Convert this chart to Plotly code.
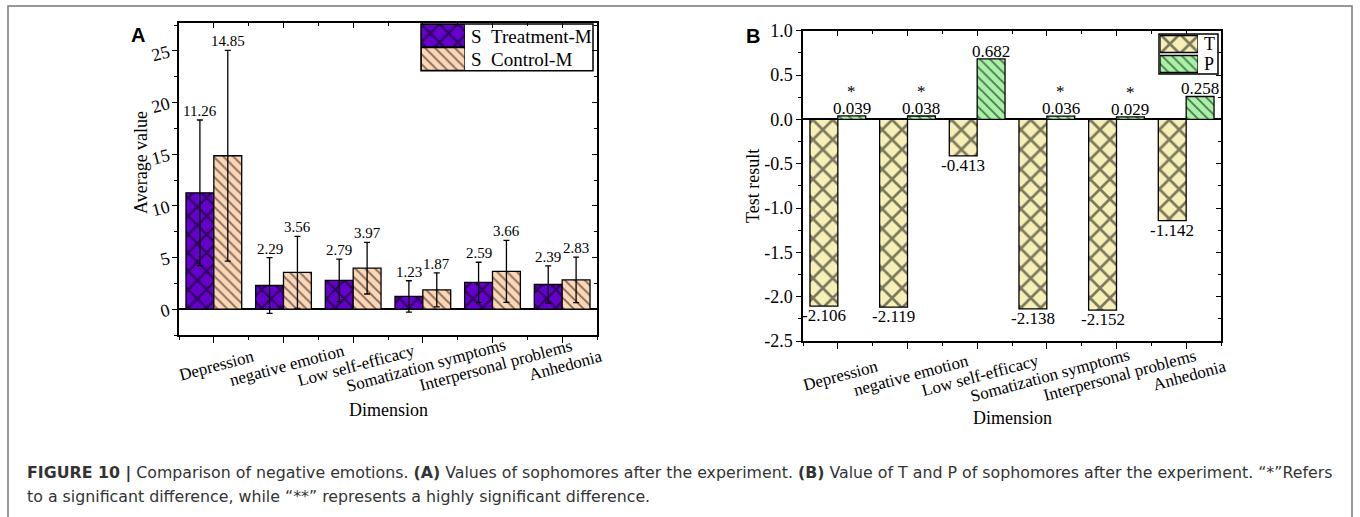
import plotly.graph_objects as go

# ---------------- data ----------------
dimensions = ["Depression", "negative emotion", "Low self-efficacy",
              "Somatization symptoms", "Interpersonal problems", "Anhedonia"]

series_a = ["S\u00a0\u00a0Treatment-M", "S\u00a0\u00a0Control-M"]
treatment_mean = [11.26, 2.29, 2.79, 1.23, 2.59, 2.39]
treatment_sd = [7.05, 2.70, 2.05, 1.52, 1.95, 1.80]
control_mean = [14.85, 3.56, 3.97, 1.87, 3.66, 2.83]
control_sd = [10.20, 3.48, 2.50, 1.65, 3.00, 2.20]
a_yticks = [0, 5, 10, 15, 20, 25]

series_b = ["T", "P"]
t_values = [-2.106, -2.119, -0.413, -2.138, -2.152, -1.142]
p_values = [0.039, 0.038, 0.682, 0.036, 0.029, 0.258]
p_marks = ["*", "*", "", "*", "*", ""]
b_yticks = [-2.5, -2.0, -1.5, -1.0, -0.5, 0.0, 0.5, 1.0]

# ---------------- style ----------------
W, H = 1360, 517
SERIF = "Liberation Serif"
SANS = "Liberation Sans"
C_TREAT = "#6600CC"
C_CTRL = "#FDD6B6"
C_T = "#F6F0B8"
C_P = "#A8F2A8"
PAT_X = dict(shape="x", fgcolor="black", fillmode="overlay", size=13, solidity=0.35)
PAT_X_B = dict(shape="x", fgcolor="black", fillmode="overlay", size=14, solidity=0.35)
PAT_BS = dict(shape="\\", fgcolor="black", fillmode="overlay", size=7, solidity=0.27)


def px(x):
    return x / W


def py(y):
    return 1 - y / H


idx = list(range(len(dimensions)))
minor_x = [i - 0.5 for i in range(len(dimensions) + 1)]

# panel boxes (pixels)
A_L, A_R, A_T, A_B = 179, 597, 23, 335
B_L, B_R, B_T, B_B = 803, 1221, 30.7, 341

fig = go.Figure()

bar_line = dict(color="black", width=1.3)
err = dict(type="data", color="black", thickness=1.3, width=3)

# ---- Panel A bars ----
fig.add_trace(go.Bar(x=idx, y=treatment_mean, name=series_a[0],
                     error_y=dict(array=treatment_sd, **err),
                     marker=dict(color=C_TREAT, line=bar_line, pattern=PAT_X),
                     xaxis="x", yaxis="y", showlegend=False))
fig.add_trace(go.Bar(x=idx, y=control_mean, name=series_a[1],
                     error_y=dict(array=control_sd, **err),
                     marker=dict(color=C_CTRL, line=bar_line, pattern=PAT_BS),
                     xaxis="x", yaxis="y", showlegend=False))

# ---- Panel B bars ----
fig.add_trace(go.Bar(x=idx, y=t_values, name=series_b[0],
                     marker=dict(color=C_T, line=bar_line, pattern=PAT_X_B),
                     xaxis="x2", yaxis="y2", showlegend=False))
fig.add_trace(go.Bar(x=idx, y=p_values, name=series_b[1],
                     marker=dict(color=C_P, line=bar_line, pattern=PAT_BS),
                     xaxis="x2", yaxis="y2", showlegend=False))

# ---- invisible traces for mirrored tick axes ----
fig.add_trace(go.Scatter(x=[None], y=[None], xaxis="x3", yaxis="y3",
                         showlegend=False, hoverinfo="skip"))
fig.add_trace(go.Scatter(x=[None], y=[None], xaxis="x4", yaxis="y4",
                         showlegend=False, hoverinfo="skip"))

# ---- legend swatches (custom legends) ----
fig.add_trace(go.Bar(y=[0], x=[1], orientation="h", width=0.97, offset=-0.485,
                     marker=dict(color=C_TREAT, line=bar_line, pattern=PAT_X),
                     xaxis="x5", yaxis="y5", showlegend=False, hoverinfo="skip"))
fig.add_trace(go.Bar(y=[1], x=[1], orientation="h", width=0.97, offset=-0.485,
                     marker=dict(color=C_CTRL, line=bar_line, pattern=PAT_BS),
                     xaxis="x5", yaxis="y5", showlegend=False, hoverinfo="skip"))
fig.add_trace(go.Bar(y=[0], x=[1], orientation="h", width=0.85, offset=-0.425,
                     marker=dict(color=C_T, line=bar_line, pattern=PAT_X_B),
                     xaxis="x6", yaxis="y6", showlegend=False, hoverinfo="skip"))
fig.add_trace(go.Bar(y=[1], x=[1], orientation="h", width=0.85, offset=-0.425,
                     marker=dict(color=C_P, line=bar_line, pattern=PAT_BS),
                     xaxis="x6", yaxis="y6", showlegend=False, hoverinfo="skip"))

axis_common = dict(showline=True, linecolor="black", linewidth=1.5, mirror=True,
                   showgrid=False, tickcolor="black", tickwidth=1.3)
x_common = dict(range=[-0.5, len(dimensions) - 0.5], tickvals=idx, showticklabels=False,
                ticks="outside", ticklen=6, zeroline=False,
                minor=dict(tickvals=minor_x, ticks="outside", ticklen=3,
                           tickcolor="black", tickwidth=1.3),
                **axis_common)

a_minor = [v + 2.5 for v in a_yticks] + [-2.5]
b_minor = [v + 0.25 for v in b_yticks[:-1]]

fig.update_layout(
    width=W, height=H, margin=dict(l=0, r=0, t=0, b=0, pad=0, autoexpand=False),
    paper_bgcolor="white", plot_bgcolor="white", showlegend=False,
    barmode="group", bargap=0.2, bargroupgap=0,
    font=dict(family=SERIF, color="black", size=17),
    xaxis=dict(domain=[px(A_L), px(A_R)], anchor="y", **x_common),
    yaxis=dict(domain=[py(A_B), py(A_T)], anchor="x", range=[-2.5, 27.7],
               tickvals=a_yticks, ticks="outside", ticklen=5, tickangle=-15,
               tickfont=dict(size=18, family=SERIF),
               minor=dict(tickvals=a_minor, ticks="outside", ticklen=3,
                          tickcolor="black", tickwidth=1.3),
               zeroline=True, zerolinecolor="black", zerolinewidth=1.5,
               **axis_common),
    xaxis2=dict(domain=[px(B_L), px(B_R)], anchor="y2", **x_common),
    yaxis2=dict(domain=[py(B_B), py(B_T)], anchor="x2", range=[-2.5, 1.0],
                tickvals=b_yticks, ticktext=[f"{v:.1f}" for v in b_yticks],
                ticks="outside", ticklen=5,
                tickfont=dict(size=18, family=SERIF),
                minor=dict(tickvals=b_minor, ticks="outside", ticklen=3,
                           tickcolor="black", tickwidth=1.3),
                zeroline=True, zerolinecolor="black", zerolinewidth=1.5,
                **axis_common),
    # mirrored inside ticks (top / right)
    xaxis3=dict(overlaying="x", side="top", anchor="y3", range=[-0.5, len(dimensions) - 0.5],
                tickvals=idx, showticklabels=False, ticks="inside", ticklen=5,
                tickcolor="black", tickwidth=1.3, showgrid=False, zeroline=False,
                minor=dict(tickvals=minor_x, ticks="inside", ticklen=3,
                           tickcolor="black", tickwidth=1.3)),
    yaxis3=dict(overlaying="y", side="right", anchor="x3", range=[-2.5, 27.7],
                tickvals=a_yticks, showticklabels=False, ticks="inside", ticklen=5,
                tickcolor="black", tickwidth=1.3, showgrid=False, zeroline=False,
                minor=dict(tickvals=a_minor, ticks="inside", ticklen=3,
                           tickcolor="black", tickwidth=1.3)),
    xaxis4=dict(overlaying="x2", side="top", anchor="y4", range=[-0.5, len(dimensions) - 0.5],
                tickvals=idx, showticklabels=False, ticks="inside", ticklen=5,
                tickcolor="black", tickwidth=1.3, showgrid=False, zeroline=False,
                minor=dict(tickvals=minor_x, ticks="inside", ticklen=3,
                           tickcolor="black", tickwidth=1.3)),
    yaxis4=dict(overlaying="y2", side="right", anchor="x4", range=[-2.5, 1.0],
                tickvals=b_yticks, showticklabels=False, ticks="inside", ticklen=5,
                tickcolor="black", tickwidth=1.3, showgrid=False, zeroline=False,
                minor=dict(tickvals=b_minor, ticks="inside", ticklen=3,
                           tickcolor="black", tickwidth=1.3)),
    # legend swatch axes
    xaxis5=dict(domain=[px(421), px(465)], anchor="y5", range=[0, 1], visible=False),
    yaxis5=dict(domain=[py(70.7), py(24)], anchor="x5", range=[1.5, -0.5], visible=False),
    xaxis6=dict(domain=[px(1160), px(1198)], anchor="y6", range=[0, 1], visible=False),
    yaxis6=dict(domain=[py(74), py(34)], anchor="x6", range=[1.5, -0.5], visible=False),
)

ann = []


def paper_text(x, y, text, size=18, family=SERIF, xanchor="center", angle=0, **kw):
    return dict(x=px(x), y=py(y), xref="paper", yref="paper", text=text,
                xanchor=xanchor, yanchor="middle", textangle=angle, showarrow=False,
                font=dict(size=size, family=family, **kw))


# value labels panel A
for i in idx:
    for off, m, s in ((-0.2, treatment_mean[i], treatment_sd[i]),
                      (0.2, control_mean[i], control_sd[i])):
        ann.append(dict(x=i + off, y=m + s, xref="x", yref="y", text=f"{m:.2f}",
                        showarrow=False, xanchor="center", yanchor="bottom", yshift=-1,
                        font=dict(size=15, family=SERIF)))

# value labels panel B
for i in idx:
    t = t_values[i]
    ann.append(dict(x=i - 0.2, y=t, xref="x2", yref="y2", text=f"{t:.3f}",
                    showarrow=False, xanchor="center", yanchor="top", yshift=2,
                    font=dict(size=17, family=SERIF)))
    p = p_values[i]
    ann.append(dict(x=i + 0.2, y=p, xref="x2", yref="y2", text=f"{p:.3f}",
                    showarrow=False, xanchor="center", yanchor="bottom", yshift=-4,
                    font=dict(size=17, family=SERIF)))
    if p_marks[i]:
        ann.append(dict(x=i + 0.2, y=p, xref="x2", yref="y2", text=p_marks[i],
                        showarrow=False, xanchor="center", yanchor="bottom", yshift=13,
                        font=dict(size=17, family=SERIF)))

# rotated category labels
for xr, bottom, shift in (("x", A_B, 30), ("x2", B_B, 34)):
    for i, d in enumerate(dimensions):
        ann.append(dict(x=i, y=py(bottom), xref=xr, yref="paper", text=d,
                        showarrow=False, textangle=-15, xanchor="center",
                        yanchor="middle", xshift=3, yshift=-shift,
                        font=dict(size=17, family=SERIF)))

# axis titles
ann += [
    paper_text(141, 163, "Average value", angle=-90),
    paper_text(388, 410, "Dimension"),
    paper_text(753, 186, "Test result", angle=-90),
    paper_text(1012, 418, "Dimension"),
]

# panel letters
ann += [
    paper_text(137.5, 35, "<b>A</b>", size=20, family=SANS),
    paper_text(752.5, 36, "<b>B</b>", size=20, family=SANS),
]

# legend texts
ann += [
    paper_text(469, 36.5, series_a[0], size=19, xanchor="left"),
    paper_text(469, 59, series_a[1], size=19, xanchor="left"),
    paper_text(1202, 43.5, series_b[0], size=18, xanchor="left"),
    paper_text(1202, 64, series_b[1], size=18, xanchor="left"),
]

# caption
ann += [
    paper_text(25, 472.5,
               "<b>FIGURE 10 |</b> Comparison of negative emotions. <b>(A)</b> Values of "
               "sophomores after the experiment. <b>(B)</b> Value of T and P of sophomores "
               "after the experiment. \u201c*\u201dRefers",
               size=15.8, family="DejaVu Sans", xanchor="left", color="#333333"),
    paper_text(25, 496,
               "to a significant difference, while \u201c**\u201d represents a highly "
               "significant difference.",
               size=15.8, family="DejaVu Sans", xanchor="left", color="#333333"),
]

fig.update_layout(annotations=ann)

shapes = [
    # legend boxes
    dict(type="rect", xref="paper", yref="paper", x0=px(421), x1=px(593),
         y0=py(70.7), y1=py(24), line=dict(color="black", width=1.5)),
    dict(type="rect", xref="paper", yref="paper", x0=px(1159), x1=px(1218),
         y0=py(74), y1=py(34), line=dict(color="black", width=1.5)),
    # outer figure border
    dict(type="rect", xref="paper", yref="paper", x0=px(8), x1=px(1352),
         y0=-0.05, y1=py(6), line=dict(color="#777777", width=1.5)),
]
fig.update_layout(shapes=shapes)

fig.write_html("out.html")
